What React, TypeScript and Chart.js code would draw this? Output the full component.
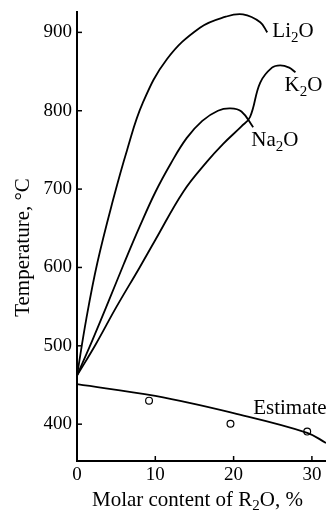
import React, { useEffect, useRef } from "react";
import { Chart, registerables } from "chart.js";

Chart.register(...registerables);

// ---- data ----
const xTicks = [0, 10, 20, 30];
const yTicks = [400, 500, 600, 700, 800, 900];

const li2oX = [0, 1.2, 2.6, 4.6, 6.4, 8.4, 11.5, 15.7, 19, 21.2, 23.4, 24.3];
const li2oY = [462, 535, 606, 686, 750, 810, 866, 906, 920, 923, 913, 900];

const k2oX = [0, 2.4, 5, 8, 10, 13.6, 16.6, 18.7, 21, 22.1, 23.4, 24.9, 25.95, 27.1, 27.9];
const k2oY = [462, 502, 549, 600, 635, 697, 735, 758, 780, 792, 836, 855, 858, 855, 849];

const na2oX = [0, 2, 4, 6, 8, 10, 12, 14, 16, 18, 19.6, 21, 22.5];
const na2oY = [462, 508, 556, 605, 652, 696, 733, 765, 787, 800, 803, 799, 779];

const estX = [0, 10, 20, 29.4, 31.8];
const estY = [451, 436, 414, 389, 376];

const measX = [9.2, 19.6, 29.4];
const measY = [430, 400.5, 390.5];

const labelNames = ["Li₂O", "K₂O", "Na₂O", "Estimate"];
const labelX = [24.95, 26.5, 22.25, 22.5];
const labelY = [901, 832, 762, 420];

const xTitle = "Molar content of R₂O, %";
const yTitle = "Temperature, °C";

const FONT = '"Liberation Serif", "Times New Roman", serif';

const pts = (xs: number[], ys: number[]) => xs.map((x, i) => ({ x, y: ys[i] }));

function drawRich(ctx: CanvasRenderingContext2D, text: string, x: number, y: number, size: number, align: "left" | "center") {
  const parts = text.split(/(₂)/).filter((p) => p.length > 0);
  const subSize = Math.round(size * 0.72);
  let total = 0;
  const widths = parts.map((p) => {
    ctx.font = `${p === "₂" ? subSize : size}px ${FONT}`;
    const w = ctx.measureText(p === "₂" ? "2" : p).width;
    total += w;
    return w;
  });
  let cx = align === "center" ? x - total / 2 : x;
  ctx.textAlign = "left";
  ctx.textBaseline = "middle";
  parts.forEach((p, i) => {
    if (p === "₂") {
      ctx.font = `${subSize}px ${FONT}`;
      ctx.fillText("2", cx, y + size * 0.3);
    } else {
      ctx.font = `${size}px ${FONT}`;
      ctx.fillText(p, cx, y);
    }
    cx += widths[i];
  });
}

const decorPlugin = {
  id: "decor",
  afterDraw(chart: any) {
    const ctx = chart.ctx as CanvasRenderingContext2D;
    const xs = chart.scales.x;
    const ys = chart.scales.y;
    const area = chart.chartArea;
    ctx.save();
    ctx.strokeStyle = "#000";
    ctx.fillStyle = "#000";
    ctx.lineWidth = 1.5;
    // inner tick marks
    xTicks.forEach((v) => {
      const px = xs.getPixelForValue(v);
      ctx.beginPath();
      ctx.moveTo(px, area.bottom);
      ctx.lineTo(px, area.bottom - 5);
      ctx.stroke();
    });
    yTicks.forEach((v) => {
      const py = ys.getPixelForValue(v);
      ctx.beginPath();
      ctx.moveTo(area.left, py);
      ctx.lineTo(area.left + 5, py);
      ctx.stroke();
    });
    // curve labels
    labelNames.forEach((name, i) => {
      drawRich(ctx, name, xs.getPixelForValue(labelX[i]), ys.getPixelForValue(labelY[i]), 21, "left");
    });
    // axis titles
    drawRich(ctx, xTitle, (area.left + area.right) / 2 - 4, chart.height - 14, 21, "center");
    ctx.translate(23, (area.top + area.bottom) / 2 + 11);
    ctx.rotate(-Math.PI / 2);
    ctx.font = `21px ${FONT}`;
    ctx.textAlign = "center";
    ctx.textBaseline = "middle";
    ctx.fillText(yTitle, 0, 0);
    ctx.restore();
  },
};

export default function App() {
  const ref = useRef<HTMLCanvasElement>(null);
  useEffect(() => {
    document.body.style.margin = "0";
    const lineDs = (xs: number[], ys: number[]) => ({
      data: pts(xs, ys),
      borderColor: "#000",
      borderWidth: 1.8,
      pointRadius: 0,
      fill: false,
      tension: 0.4,
    });
    const chart = new Chart(ref.current!, {
      type: "line",
      data: {
        datasets: [
          lineDs(li2oX, li2oY),
          lineDs(k2oX, k2oY),
          lineDs(na2oX, na2oY),
          lineDs(estX, estY),
          {
            data: pts(measX, measY),
            showLine: false,
            pointRadius: 3.4,
            pointBorderWidth: 1.2,
            pointBackgroundColor: "#fff",
            pointBorderColor: "#000",
            borderColor: "#000",
          } as any,
        ],
      },
      options: {
        animation: false,
        responsive: false,
        events: [],
        layout: { autoPadding: false, padding: { top: 12, right: 0, left: 0, bottom: 0 } },
        plugins: { legend: { display: false }, tooltip: { enabled: false } },
        scales: {
          x: {
            type: "linear",
            min: 0,
            max: 31.8,
            grid: { display: false, drawTicks: false },
            border: { display: true, color: "#000", width: 2 },
            afterBuildTicks: (s: any) => {
              s.ticks = xTicks.map((v) => ({ value: v }));
            },
            afterFit: (s: any) => {
              s.height = 53;
              s.paddingLeft = 0;
              s.paddingRight = 0;
            },
            ticks: {
              color: "#000",
              font: { family: FONT, size: 19 },
              padding: 3,
              maxRotation: 0,
            },
          },
          y: {
            type: "linear",
            min: 353,
            max: 926,
            grid: { display: false, drawTicks: false },
            border: { display: true, color: "#000", width: 2 },
            afterBuildTicks: (s: any) => {
              s.ticks = yTicks.map((v) => ({ value: v }));
            },
            afterFit: (s: any) => {
              s.width = 77;
              s.paddingTop = 0;
              s.paddingBottom = 0;
            },
            ticks: {
              color: "#000",
              font: { family: FONT, size: 19 },
              padding: 5,
            },
          },
        },
      },
      plugins: [decorPlugin],
    });
    return () => chart.destroy();
  }, []);
  return <canvas ref={ref} width={326} height={514} style={{ display: "block" }} />;
}
